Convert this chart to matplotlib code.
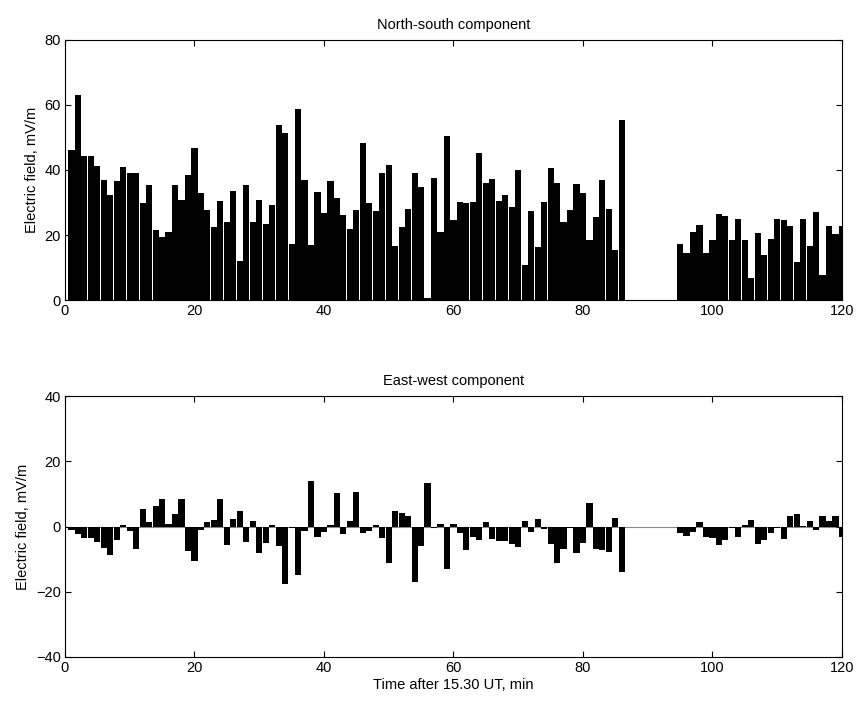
import matplotlib
matplotlib.use("Agg")
import matplotlib.pyplot as plt
import numpy as np

plt.rcParams['font.family'] = ['Liberation Sans', 'DejaVu Sans']

minutes = list(range(1, 121))

north_south = [
    46.0, 63.0, 44.3, 44.3, 41.2, 36.8, 32.3, 36.6, 40.9, 39.2,
    39.2, 29.8, 35.5, 21.5, 19.5, 21.0, 35.3, 30.9, 38.4, 46.7,
    32.9, 27.8, 22.6, 30.4, 23.9, 33.4, 12.1, 35.3, 23.9, 30.9,
    23.4, 29.3, 53.8, 51.3, 17.1, 58.8, 37.0, 16.9, 33.1, 26.8,
    36.7, 31.3, 26.3, 22.0, 27.8, 48.4, 29.8, 27.3, 39.2, 41.6,
    16.6, 22.4, 28.0, 39.1, 34.8, 0.5, 37.6, 20.8, 50.5, 24.6,
    30.1, 29.8, 30.1, 45.3, 36.0, 37.3, 30.4, 32.4, 28.7, 40.1,
    10.7, 27.3, 16.4, 30.1, 40.5, 36.0, 24.1, 27.7, 35.8, 32.8,
    18.5, 25.4, 37.0, 28.0, 15.4, 55.3, 0, 0, 0, 0,
    0, 0, 0, 0, 17.1, 14.6, 20.9, 23.1, 14.6, 18.5,
    26.6, 26.0, 18.5, 24.9, 18.5, 6.9, 20.6, 13.8, 18.8, 24.9,
    24.7, 22.9, 11.6, 24.9, 16.7, 27.0, 7.6, 22.9, 20.3, 22.9,
]

east_west = [
    -0.9, -2.2, -3.6, -3.6, -4.8, -6.5, -8.6, -4.0, 0.6, -1.4,
    -7.0, 5.3, 1.4, 6.3, 8.6, 0.7, 3.8, 8.6, -7.6, -10.7,
    -1.1, 1.5, 2.0, 8.6, -5.5, 2.2, 4.9, -4.8, 1.8, -8.0,
    -5.1, 0.4, -6.1, -17.7, -0.3, -14.9, -1.3, 14.1, -3.1, -1.8,
    0.6, 10.4, -2.2, 1.6, 10.7, -2.0, -1.3, 0.4, -3.5, -11.1,
    4.8, 4.1, 3.1, -16.9, -6.1, 13.5, -0.3, 0.7, -12.9, 0.9,
    -2.0, -7.2, -3.1, -4.1, 1.3, -3.7, -4.4, -4.4, -5.4, -6.2,
    1.7, -1.8, 2.2, -0.6, -5.3, -11.1, -6.9, -0.3, -8.0, -4.9,
    7.3, -6.9, -7.2, -7.7, 2.5, -13.9, 0, 0, 0, 0,
    0, 0, 0, 0, -1.9, -3.0, -1.8, 1.4, -3.2, -3.4,
    -5.8, -4.0, -0.3, -3.3, 0.5, 2.1, -5.3, -4.2, -1.9, -0.3,
    -3.8, 3.4, 4.0, 0.3, 1.7, -1.1, 3.1, 1.6, 3.1, -3.1,
]

titles = ["North-south component", "East-west component"]
ylabel = "Electric field, mV/m"
xlabel = "Time after 15.30 UT, min"

fig = plt.figure(figsize=(8.56, 7.01), dpi=100)
ax1 = fig.add_axes([0.0759, 0.572, 0.9077, 0.371])
ax2 = fig.add_axes([0.0759, 0.0628, 0.9077, 0.372])

for ax in (ax1, ax2):
    ax.tick_params(direction='in', top=True, right=True, length=4,
                   labelsize=10.5, width=0.8, pad=3)
    for s in ax.spines.values():
        s.set_linewidth(0.8)
    ax.set_xlim(0, 120)
    ax.set_xticks([0, 20, 40, 60, 80, 100, 120])

ax1.bar(minutes, north_south, width=0.95, color='black', linewidth=0)
ax1.set_ylim(0, 80)
ax1.set_yticks([0, 20, 40, 60, 80])
ax1.set_title(titles[0], fontsize=10.5, pad=8)
ax1.set_ylabel(ylabel, fontsize=10.5, labelpad=4)

ax2.axhline(0, color='#888888', lw=0.8, zorder=1)
ax2.bar(minutes, east_west, width=0.95, color='black', linewidth=0, zorder=2)
ax2.set_ylim(-40, 40)
ax2.set_yticks([-40, -20, 0, 20, 40])
ax2.set_title(titles[1], fontsize=10.5, pad=8)
ax2.set_ylabel(ylabel, fontsize=10.5, labelpad=4)
ax2.set_xlabel(xlabel, fontsize=10.5, labelpad=2)

fig.savefig("out.png", dpi=100)
